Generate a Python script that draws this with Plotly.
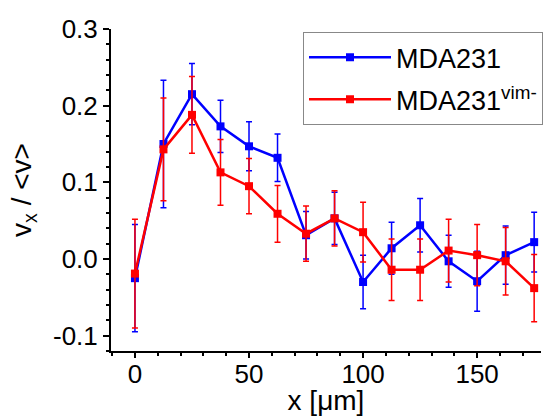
import plotly.graph_objects as go

x_um = [0, 12.5, 25, 37.5, 50, 62.5, 75, 87.5, 100, 112.5, 125, 137.5, 150, 162.5, 175]
mda231 = [-0.025, 0.150, 0.215, 0.173, 0.147, 0.132, 0.031, 0.053, -0.030, 0.014, 0.044, -0.003, -0.029, 0.005, 0.022]
mda231_err = [0.070, 0.083, 0.040, 0.034, 0.032, 0.031, 0.031, 0.034, 0.035, 0.034, 0.035, 0.034, 0.039, 0.038, 0.039]
vim = [-0.019, 0.143, 0.188, 0.113, 0.095, 0.059, 0.033, 0.053, 0.035, -0.014, -0.014, 0.011, 0.005, -0.003, -0.038]
vim_err = [0.071, 0.067, 0.050, 0.043, 0.036, 0.037, 0.036, 0.036, 0.039, 0.040, 0.040, 0.041, 0.040, 0.044, 0.044]
names = ["MDA231", "MDA231<sup>vim-</sup>"]
colors = ["#0000FF", "#FF0000"]

fig = go.Figure()
for name, ys, es, c, g in [(names[0], mda231, mda231_err, colors[0], "a"),
                           (names[1], vim, vim_err, colors[1], "b")]:
    fig.add_trace(go.Scatter(
        x=x_um, y=ys, name=name, mode="lines+markers", legendgroup=g,
        line=dict(color=c, width=2.5),
        marker=dict(symbol="square", size=8, color=c),
        error_y=dict(type="data", array=es, visible=True, color=c,
                     thickness=1.5, width=3),
    ))

font = "Liberation Sans, Arial, sans-serif"
fig.update_layout(
    width=543, height=416,
    margin=dict(l=111, r=0, t=29, b=65),
    paper_bgcolor="white", plot_bgcolor="white",
    font=dict(family=font, size=26, color="black"),
    showlegend=True,
    legend=dict(x=0.447, y=0.99, xanchor="left", yanchor="top",
                bordercolor="#888888", borderwidth=1, bgcolor="white",
                font=dict(size=27), tracegroupgap=4, itemwidth=82),
    xaxis=dict(range=[-10.5, 178], showgrid=False, zeroline=False,
               showline=True, linecolor="black", linewidth=2,
               ticks="outside", ticklen=5, tickwidth=2, tickcolor="black",
               ticklabelstandoff=-6,
               tickvals=[0, 50, 100, 150], ticktext=["0", "50", "100", "150"],
               minor=dict(ticks="outside", ticklen=3, tickwidth=1.5, dtick=10, tickcolor="black"),
               title=dict(text="x [μm]", standoff=4, font=dict(size=28)),
               tickfont=dict(size=26)),
    yaxis=dict(range=[-0.12, 0.3], showgrid=False, zeroline=False,
               showline=True, linecolor="black", linewidth=2,
               ticks="outside", ticklen=6, tickwidth=2, tickcolor="black",
               tickvals=[-0.1, 0.0, 0.1, 0.2, 0.3],
               ticktext=["-0.1", "0.0", "0.1", "0.2", "0.3"],
               minor=dict(ticks="outside", ticklen=3, tickwidth=1.5, dtick=0.02, tick0=0, tickcolor="black"),
               title=dict(text="v<sub>x</sub> / &lt;v&gt;", standoff=13, font=dict(size=28)),
               tickfont=dict(size=26)),
)

fig.write_html("out.html")
